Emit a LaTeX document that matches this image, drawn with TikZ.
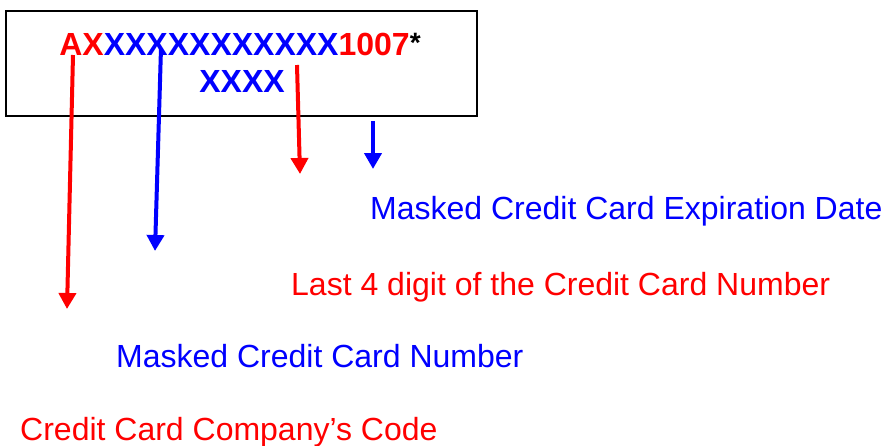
\documentclass[tikz,border=0pt]{standalone}
\usepackage{fontspec}
\setmainfont{Liberation Sans}
\usetikzlibrary{arrows.meta}
\definecolor{cred}{RGB}{255,0,0}
\definecolor{cblue}{RGB}{0,0,255}
\begin{document}
\begin{tikzpicture}[x=1pt,y=-1pt,
  bigtxt/.style={inner sep=0pt, anchor=base, font=\bfseries\fontsize{32}{32}\selectfont},
  lbl/.style={inner sep=0pt, anchor=base west, font=\fontsize{32}{32}\selectfont},
  arr/.style={line width=4pt, -{Triangle[width=17pt,length=16pt]}}]
\useasboundingbox (0,0) rectangle (887,445);
\node (box) [draw, line width=2.5pt, minimum width=471pt, minimum height=105pt, inner sep=0pt] at (241.5,63.5) {};
\node (l1) [bigtxt] at (240,55) {\textcolor{cred}{AX}\textcolor{cblue}{XXXXXXXXXXX}\textcolor{cred}{1007}\raisebox{3pt}{\fontsize{28}{28}\selectfont *}};
\node (l2) [bigtxt, text=cblue] at (242,92) {XXXX};
\node (t1) [lbl, text=cblue] at (370,219) {Masked Credit Card Expiration Date};
\node (t2) [lbl, text=cred] at (291,295) {Last 4 digit of the Credit Card Number};
\node (t3) [lbl, text=cblue] at (116,367) {Masked Credit Card Number};
\node (t4) [lbl, text=cred] at (20,440) {Credit Card Company’s Code};
\coordinate (a1s) at (73,55);
\coordinate (a1e) at (67,309);
\coordinate (a2s) at (161,48);
\coordinate (a2e) at (155,251);
\coordinate (a3s) at (297,65);
\coordinate (a3e) at (300,174);
\coordinate (a4s) at (373,121);
\coordinate (a4e) at (373,169);
\draw[arr, cred] (a1s) -- (a1e);
\draw[arr, cblue] (a2s) -- (a2e);
\draw[arr, cred] (a3s) -- (a3e);
\draw[arr, cblue] (a4s) -- (a4e);
\end{tikzpicture}
\end{document}
